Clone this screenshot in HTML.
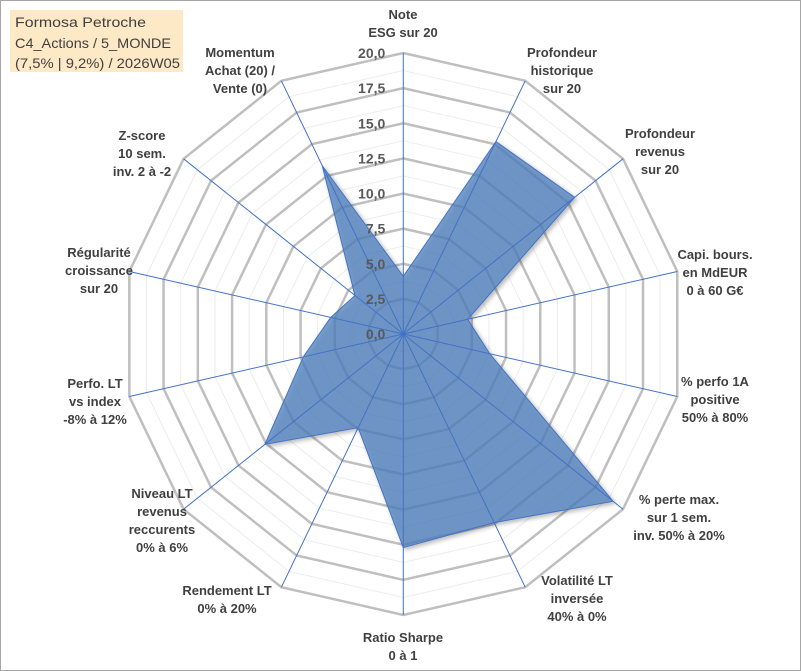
<!DOCTYPE html>
<html><head><meta charset="utf-8"><style>
html,body{margin:0;padding:0;background:#fff}
svg{display:block;font-family:"Liberation Sans",Arial,sans-serif}
</style></head><body>
<svg id="chart" width="801" height="671" viewBox="0 0 801 671">
<defs><filter id="sh" x="-10%" y="-10%" width="120%" height="120%"><feDropShadow dx="2" dy="2" stdDeviation="2" flood-color="#000" flood-opacity="0.35"/></filter></defs>
<rect x="0.5" y="0.5" width="800" height="670" fill="#fff" stroke="#a6a6a6"/>
<g id="grid"></g><g id="spokes"></g><g id="series"></g><g id="ticks"></g><g id="labels"></g>
<g>
<rect x="10" y="10" width="173" height="62" fill="#fde9c6"/>
<text x="15" y="27" font-size="14" fill="#404040" textLength="131" lengthAdjust="spacingAndGlyphs">Formosa Petroche</text>
<text x="15" y="48" font-size="14" fill="#404040" textLength="156" lengthAdjust="spacingAndGlyphs">C4_Actions / 5_MONDE</text>
<text x="15" y="68" font-size="14" fill="#404040" textLength="165" lengthAdjust="spacingAndGlyphs">(7,5% | 9,2%) / 2026W05</text>
</g>
</svg>
<script>
const categories=[["Note","ESG sur 20"],["Profondeur","historique","sur 20"],["Profondeur","revenus","sur 20"],["Capi. bours.","en MdEUR","0 à 60 G€"],["% perfo 1A","positive","50% à 80%"],["% perte max.","sur 1 sem.","inv. 50% à 20%"],["Volatilité LT","inversée","40% à 0%"],["Ratio Sharpe","0 à 1"],["Rendement LT","0% à 20%"],["Niveau LT","revenus","reccurents","0% à 6%"],["Perfo. LT","vs index","-8% à 12%"],["Régularité","croissance","sur 20"],["Z-score","10 sem.","inv. 2 à -2"],["Momentum","Achat (20) /","Vente (0)"]];
const values=[4.1,15.2,15.6,4.7,6.3,19.1,14.9,15.2,7.4,12.6,7.3,5.3,4.4,13.3];
const tickLabels=["0,0","2,5","5,0","7,5","10,0","12,5","15,0","17,5","20,0"];
const maxVal=20;
const labelX=[403,562,660,715,715,679,577,403,227,162,95,99,142,240];
const labelY=[14,52,133,254,381,499,580,637,590,493,383,252,135,52];
const cx=403.3,cy=334,R=281,N=categories.length,NS="http://www.w3.org/2000/svg";
function ang(i){return -Math.PI/2+i*2*Math.PI/N;}
function pt(i,v){const r=v/maxVal*R;return [cx+r*Math.cos(ang(i)),cy+r*Math.sin(ang(i))];}
function mk(t,a,p){const e=document.createElementNS(NS,t);for(const k in a)e.setAttribute(k,a[k]);p.appendChild(e);return e;}
const grid=document.getElementById('grid');
for(let k=1;k<=16;k++){const v=k*maxVal/16;const pts=[];for(let i=0;i<N;i++)pts.push(pt(i,v).join(','));
 const major=k%2===0;
 const p=mk('polygon',{points:pts.join(' '),fill:'none',stroke:major?'#bfbfbf':'#ececec','stroke-width':major?2.5:1},grid);
 
 }
const ser=document.getElementById('series');
const poly=mk('polygon',{points:values.map((v,i)=>pt(i,v).join(',')).join(' '),fill:'rgb(79,129,189)','fill-opacity':0.75,stroke:'#4472c4','stroke-width':1,filter:'url(#sh)'},ser);


for(let i=0;i<N;i++){const [x,y]=pt(i,maxVal);
 const l=mk('line',{x1:cx,y1:cy,x2:x,y2:y,stroke:'#4472c4','stroke-width':1},ser);
 
 }
const tk=document.getElementById('ticks');
tickLabels.forEach((t,k)=>{const y=cy-k*R/(tickLabels.length-1);
 const e=mk('text',{x:cx-18,y:y+5,'text-anchor':'end','font-size':14,'font-weight':'bold',fill:'#595959'},tk);e.textContent=t;
 
 });
const lb=document.getElementById('labels');
categories.forEach((lines,i)=>{
 const g=mk('text',{'text-anchor':'middle','font-size':13,'font-weight':'bold',fill:'#404040'},lb);
 
 
 lines.forEach((s,j)=>{const ts=mk('tspan',{x:labelX[i],y:labelY[i]+j*18+5},g);ts.textContent=s;});});
</script>
</body></html>
